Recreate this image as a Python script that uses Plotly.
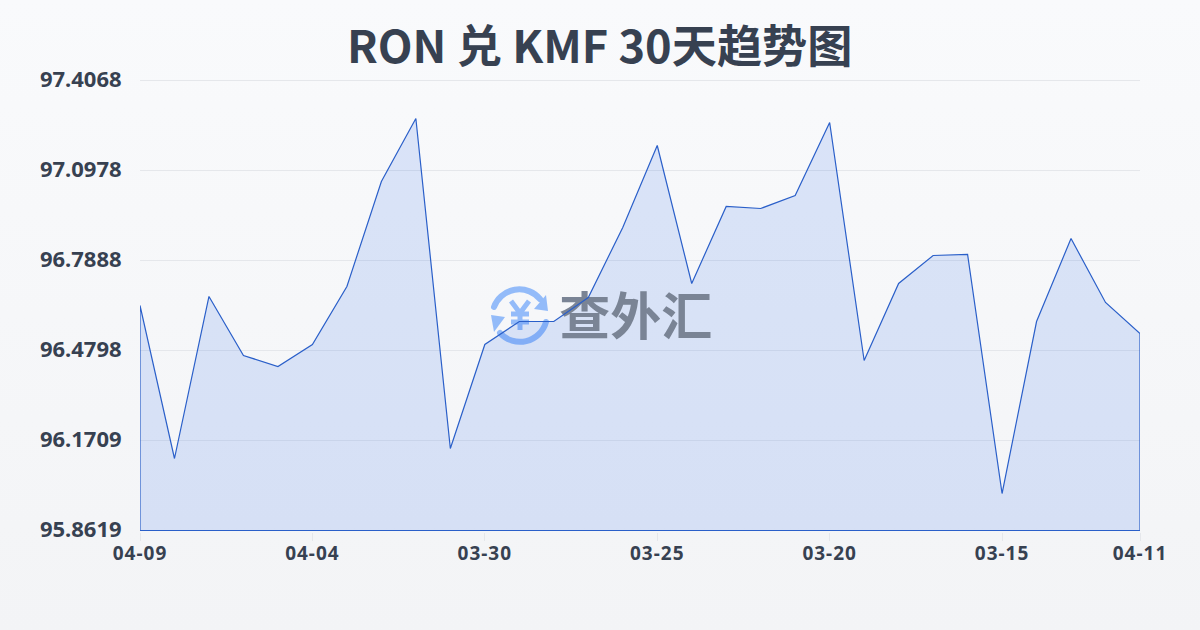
import base64
import plotly.graph_objects as go

dates = ["04-09","04-08","04-07","04-06","04-05","04-04","04-03","04-02","04-01","03-31",
         "03-30","03-29","03-28","03-27","03-26","03-25","03-24","03-23","03-22","03-21",
         "03-20","03-19","03-18","03-17","03-16","03-15","03-14","03-13","03-12","04-11"]
values = [96.6344,96.1091,96.6653,96.4627,96.4250,96.5005,96.6996,97.0601,97.2764,96.1434,
          96.5005,96.5794,96.5794,96.6618,96.9022,97.1837,96.7099,96.9743,96.9674,97.0120,
          97.2627,96.4455,96.7099,96.8060,96.8095,95.9889,96.5794,96.8644,96.6447,96.5382]
y_ticks = [95.8619,96.1709,96.4798,96.7888,97.0978,97.4068]
y_labels = ["95.8619","96.1709","96.4798","96.7888","97.0978","97.4068"]
x_tick_idx = [0,5,10,15,20,25,29]
title = "RON 兑 KMF 30天趋势图"
mark = "查外汇"

idx = list(range(len(dates)))
base = y_ticks[0]
INK = "#374151"
LINE = "#2a5fc9"
PAD = 1.5 * (y_ticks[-1] - y_ticks[0]) / 450   # keeps the end gridlines drawn
TOP, H = 79, 453

def uri(svg):
    return "data:image/svg+xml;base64," + base64.b64encode(svg.encode()).decode()

bg_svg = ('<svg xmlns="http://www.w3.org/2000/svg" width="1200" height="630" preserveAspectRatio="none">'
          '<defs><linearGradient id="g" x1="0" y1="0" x2="0" y2="1">'
          '<stop offset="0" stop-color="#f9fafc"/><stop offset="1" stop-color="#f3f4f6"/></linearGradient></defs>'
          '<rect width="1200" height="630" fill="url(#g)"/></svg>')
logo_svg = ('<svg xmlns="http://www.w3.org/2000/svg" width="60" height="60" viewBox="0 0 60 60">'
            '<g fill="none" stroke="#93bbf9" stroke-width="6" stroke-linecap="round">'
            '<path d="M4 21 A27 27 0 0 1 50 13"/>'
            '<path d="M10 47 A27 27 0 0 0 56 36"/>'
            '<path d="M21 15 L30 27 L39 15 M30 27 V44 M21 28 H39 M21 36 H39" stroke-width="5" stroke-linecap="butt"/>'
            '</g><g fill="#93bbf9"><path d="M58 25 L44 23 L56 9 Z"/><path d="M1 29 L15 31 L4 46 Z"/></g></svg>')

fig = go.Figure()
fig.add_trace(go.Scatter(
    x=[idx[0]] + idx + [idx[-1]], y=[base] + values + [base], mode="lines",
    line=dict(width=0), fill="toself", fillcolor="rgba(37,99,235,0.14)",
    hoverinfo="skip", showlegend=False))
fig.add_trace(go.Scatter(
    x=[14.38], y=[96.576], mode="text", text=[mark],
    textfont=dict(family="Noto Sans CJK SC", size=51, color="#7a8495", weight=700),
    textposition="middle center", hoverinfo="skip", showlegend=False))
fig.add_trace(go.Scatter(
    x=[idx[0]] + idx + [idx[-1], idx[0]], y=[base] + values + [base, base], mode="lines",
    line=dict(color=LINE, width=1.2), cliponaxis=False, hoverinfo="skip", showlegend=False))

fig.update_layout(
    width=1200, height=630, autosize=False,
    margin=dict(l=140, r=60, t=TOP, b=630 - TOP - H),
    paper_bgcolor="rgba(0,0,0,0)", plot_bgcolor="rgba(0,0,0,0)",
    showlegend=False,
    images=[
        dict(source=uri(bg_svg), xref="paper", yref="paper", x=-140/1000, y=1+TOP/H,
             sizex=1200/1000, sizey=630/H, xanchor="left", yanchor="top",
             sizing="stretch", layer="below"),
        dict(source=uri(logo_svg), xref="paper", yref="paper", x=350/1000, y=1-(286-TOP)/H,
             sizex=60/1000, sizey=60/H, xanchor="left", yanchor="top",
             sizing="stretch", layer="below"),
    ],
    annotations=[dict(text=title, xref="paper", yref="paper", x=0.459, y=1+(TOP-43)/H,
                      xanchor="center", yanchor="middle", showarrow=False,
                      font=dict(family="Noto Sans CJK SC", size=45.2, color=INK, weight=700))],
    xaxis=dict(range=[0, 29], tickmode="array", tickvals=x_tick_idx,
               ticktext=[dates[i] for i in x_tick_idx], showgrid=False, zeroline=False,
               showline=False, ticks="outside", ticklen=8, tickcolor="#e5e7eb", tickwidth=1,
               ticklabelstandoff=-4,
               tickfont=dict(family="Noto Sans", size=19, color=INK, weight=700)),
    yaxis=dict(range=[y_ticks[0] - PAD, y_ticks[-1] + PAD], tickmode="array", tickvals=y_ticks,
               ticktext=y_labels, showgrid=True, gridcolor="#e5e7eb", gridwidth=1,
               zeroline=False, showline=False, ticks="outside", ticklen=13,
               tickcolor="rgba(0,0,0,0)",
               tickfont=dict(family="Noto Sans", size=22, color=INK, weight=700)),
)
post = """
document.body.style.margin='0';
document.documentElement.style.background='#f6f7f9';
document.querySelectorAll('.xtick text').forEach(function(t){t.style.letterSpacing='1px';});
document.querySelectorAll('.ytick text').forEach(function(t){t.setAttribute('y', parseFloat(t.getAttribute('y'))-1.5);});
"""
fig.write_html("out.html", post_script=post, config={"displayModeBar": False})
